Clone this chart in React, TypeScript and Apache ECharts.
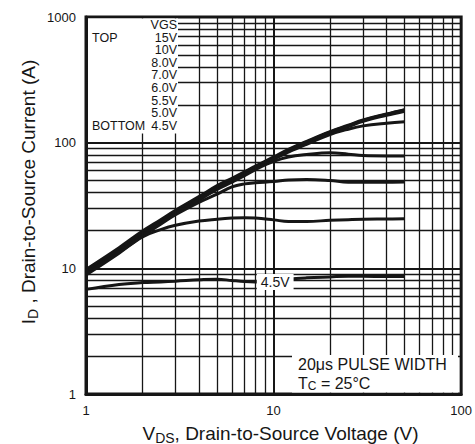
import React, { useEffect, useRef } from "react";
import * as echarts from "echarts";

const VDS = [1, 1.5, 2, 2.5, 3, 4, 5, 6, 7, 8, 10, 12, 15, 20, 25, 30, 40, 50];

const ID_15V = [9.8, 14.6, 19.8, 24.4, 29, 37.2, 45.5, 52, 58.5, 65, 77, 88.5, 102.5, 122.5, 137.5, 151.5, 169, 183];
const ID_10V = [9.6, 14.3, 19.4, 23.9, 28.5, 36.6, 44.8, 51.2, 57.7, 63.8, 75.8, 87.2, 101.2, 121.2, 136.2, 150.2, 168, 182];
const ID_8V = [9.4, 14.0, 18.9, 23.4, 27.9, 35.8, 43.8, 50.1, 56.6, 62.6, 74.6, 85.2, 99.2, 119, 134, 148, 165, 178];
const ID_7V = [9.25, 13.8, 18.6, 23.1, 27.5, 35.3, 43.2, 49.5, 56, 62, 74, 84, 97, 116, 128, 136, 143, 147];
const ID_6V = [9.1, 13.6, 18.4, 22.8, 27.2, 35.0, 42.5, 48.5, 54.5, 61, 71, 77, 80.5, 83, 81, 79, 78.5, 78.5];
const ID_55V = [9.0, 13.4, 18.1, 22.4, 26.7, 33.5, 39, 44.5, 47, 48, 49, 50.5, 51, 50, 48.5, 48.5, 48.5, 48.6];
const ID_5V = [8.85, 13.2, 17.8, 20.3, 22, 23.8, 24.6, 25.1, 25.3, 25.1, 24.3, 23.6, 23.6, 24.1, 24.4, 24.6, 24.7, 24.8];
const ID_45V = [6.8, 7.45, 7.7, 7.8, 7.9, 8.1, 8.2, 8.0, 7.85, 7.8, 7.9, 8.2, 8.4, 8.55, 8.65, 8.65, 8.6, 8.6];

const CURVES: [string, number[]][] = [
  ["15V", ID_15V],
  ["10V", ID_10V],
  ["8.0V", ID_8V],
  ["7.0V", ID_7V],
  ["6.0V", ID_6V],
  ["5.5V", ID_55V],
  ["5.0V", ID_5V],
  ["4.5V", ID_45V],
];

const X_MINOR = [2, 3, 4, 5, 6, 7, 8, 9, 20, 30, 40, 50, 60, 70, 80, 90];
const Y_MINOR = [2, 3, 4, 5, 6, 7, 8, 9, 20, 30, 40, 50, 60, 70, 80, 90, 200, 300, 400, 500, 600, 700, 800, 900];

const LEGEND_HEAD = "VGS";
const LEGEND_ITEMS = ["15V", "10V", "8.0V", "7.0V", "6.0V", "5.5V", "5.0V", "4.5V"];

const FONT = "'Liberation Sans', Arial, sans-serif";
const INK = "#161616";

export default function App() {
  const ref = useRef<HTMLDivElement>(null);
  useEffect(() => {
    if (!ref.current) return;
    const chart = echarts.init(ref.current, null, { renderer: "svg" });

    const series: any[] = CURVES.map(([name, ys]) => ({
      name,
      type: "line",
      data: VDS.map((v, i) => [v, ys[i]]),
      showSymbol: false,
      smooth: 0.4,
      z: 3,
      lineStyle: { color: INK, width: 3 },
    }));

    series[series.length - 1].markPoint = {
      symbol: "rect",
      symbolSize: 1,
      itemStyle: { color: "rgba(0,0,0,0)" },
      data: [{ coord: [10.2, 7.8] }],
      label: {
        show: true,
        position: "inside",
        formatter: "4.5V",
        fontSize: 14,
        fontFamily: FONT,
        color: INK,
        backgroundColor: "#ffffff",
        padding: [1, 4, 1, 4],
      },
    };

    series.push({
      name: "grid",
      type: "line",
      data: [[1, 1]],
      showSymbol: false,
      lineStyle: { opacity: 0 },
      z: 1,
      silent: true,
      markLine: {
        silent: true,
        symbol: "none",
        animation: false,
        label: { show: false },
        lineStyle: { color: INK, width: 1.3, type: "solid" },
        data: [
          ...X_MINOR.map((v) => ({ xAxis: v })),
          ...Y_MINOR.map((v) => ({ yAxis: v })),
        ],
      },
    });

    const legendTexts: any[] = [];
    const y0 = 25;
    const dy = 12.6;
    const lg = (text: string, x: number, y: number, align: string) => ({
      type: "text",
      z: 11,
      style: {
        text,
        x,
        y,
        align,
        verticalAlign: "middle",
        fontSize: 12.5,
        lineHeight: 12,
        fontFamily: FONT,
        fill: INK,
      },
    });
    legendTexts.push(lg(LEGEND_HEAD, 177, y0, "right"));
    LEGEND_ITEMS.forEach((t, i) => legendTexts.push(lg(t, 177, y0 + dy * (i + 1), "right")));
    legendTexts.push(lg("TOP", 92, y0 + dy, "left"));
    legendTexts.push(lg("BOTTOM", 92, y0 + dy * 8, "left"));

    chart.setOption({
      animation: false,
      backgroundColor: "#ffffff",
      grid: {
        left: 86,
        right: 12,
        top: 17,
        bottom: 50,
        show: true,
        borderColor: INK,
        borderWidth: 3,
        backgroundColor: "#ffffff",
      },
      xAxis: {
        type: "log",
        logBase: 10,
        min: 1,
        max: 100,
        axisLine: { show: true, lineStyle: { color: INK, width: 3 } },
        axisTick: { show: false },
        splitLine: { show: true, lineStyle: { color: INK, width: 2 } },
        axisLabel: {
          fontSize: 13,
          fontFamily: FONT,
          color: INK,
          margin: 10,
          formatter: (v: number) => String(Math.round(v)),
        },
      },
      yAxis: {
        type: "log",
        logBase: 10,
        min: 1,
        max: 1000,
        axisLine: { show: true, lineStyle: { color: INK, width: 3 } },
        axisTick: { show: false },
        splitLine: { show: true, lineStyle: { color: INK, width: 2 } },
        axisLabel: {
          fontSize: 13,
          fontFamily: FONT,
          color: INK,
          margin: 10,
          formatter: (v: number) => String(Math.round(v)),
        },
      },
      series,
      graphic: [
        {
          type: "rect",
          z: 10,
          shape: { x: 88, y: 18.5, width: 90, height: 115 },
          style: { fill: "#ffffff" },
        },
        ...legendTexts,
        {
          type: "rect",
          z: 10,
          shape: { x: 292, y: 355, width: 166, height: 37.5 },
          style: { fill: "#ffffff" },
        },
        {
          type: "text",
          z: 11,
          style: { text: "20μs PULSE WIDTH", x: 298, y: 364, align: "left", verticalAlign: "middle", fontSize: 16, fontFamily: FONT, fill: INK },
        },
        {
          type: "text",
          z: 11,
          style: {
            text: "{a|T}{b|C}{a| = 25°C}",
            x: 298,
            y: 383,
            align: "left",
            verticalAlign: "middle",
            fontFamily: FONT,
            fill: INK,
            rich: {
              a: { fontSize: 16, fontFamily: FONT, fill: INK },
              b: { fontSize: 12, fontFamily: FONT, fill: INK, padding: [5, 0, 0, 0] },
            },
          },
        },
        {
          type: "text",
          z: 11,
          style: {
            text: "{a|V}{b|DS}{a|, Drain-to-Source Voltage (V)}",
            x: 280.5,
            y: 433,
            align: "center",
            verticalAlign: "middle",
            fontFamily: FONT,
            fill: INK,
            rich: {
              a: { fontSize: 19, fontFamily: FONT, fill: INK },
              b: { fontSize: 14, fontFamily: FONT, fill: INK, padding: [9, 0, 0, 0] },
            },
          },
        },
        {
          type: "text",
          z: 11,
          x: 28,
          y: 192,
          rotation: Math.PI / 2,
          style: {
            text: "{a|I}{b|D}{a| , Drain-to-Source Current (A)}",
            x: 0,
            y: 0,
            align: "center",
            verticalAlign: "middle",
            fontFamily: FONT,
            fill: INK,
            rich: {
              a: { fontSize: 19, fontFamily: FONT, fill: INK },
              b: { fontSize: 14, fontFamily: FONT, fill: INK, padding: [9, 0, 0, 0] },
            },
          },
        },
      ],
    });

    return () => chart.dispose();
  }, []);

  return (
    <div
      ref={ref}
      style={{ position: "fixed", left: 0, top: 0, width: 475, height: 444, background: "#ffffff" }}
    />
  );
}
